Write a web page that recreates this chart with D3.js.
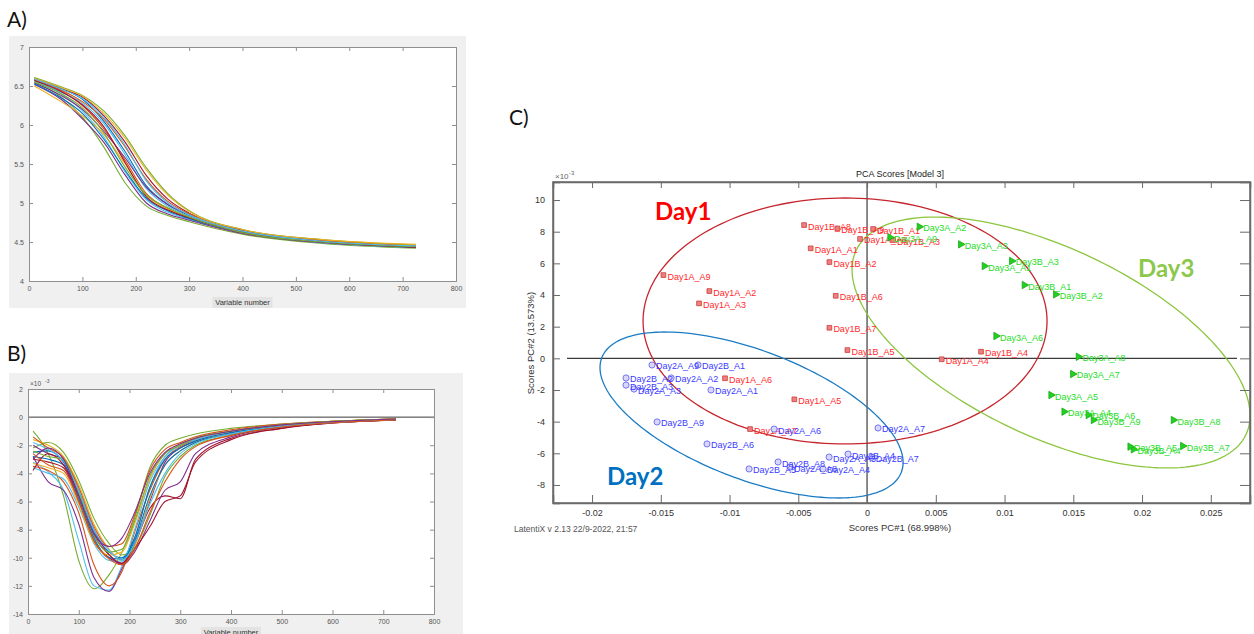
<!DOCTYPE html>
<html>
<head>
<meta charset="utf-8">
<script src="https://cdn.jsdelivr.net/npm/d3@7"></script>
<style>
  body { margin: 0; background: #fff; }
  svg { display: block; font-family: "Liberation Sans", Arial, sans-serif; }
</style>
</head>
<body>
<svg id="fig" width="1254" height="634"></svg>
<script>
// ---- panel A: raw curves (value vs variable number) ----
var varA = [10, 60, 100, 140, 180, 220, 260, 300, 400, 550, 725];
var spectraA = [
  [6.55, 6.36, 6.10, 5.72, 5.26, 4.96, 4.84, 4.76, 4.60, 4.48, 4.42],
  [6.57, 6.40, 6.18, 5.85, 5.40, 5.04, 4.88, 4.79, 4.62, 4.49, 4.43],
  [6.52, 6.33, 6.08, 5.78, 5.36, 5.00, 4.86, 4.78, 4.61, 4.49, 4.44],
  [6.58, 6.44, 6.25, 5.95, 5.55, 5.12, 4.93, 4.81, 4.63, 4.50, 4.44],
  [6.60, 6.47, 6.33, 6.05, 5.66, 5.22, 4.98, 4.84, 4.64, 4.51, 4.45],
  [6.50, 6.30, 6.12, 5.88, 5.50, 5.10, 4.92, 4.82, 4.63, 4.51, 4.45],
  [6.59, 6.46, 6.36, 6.12, 5.78, 5.35, 5.05, 4.87, 4.65, 4.52, 4.45],
  [6.61, 6.49, 6.38, 6.18, 5.86, 5.45, 5.12, 4.90, 4.66, 4.53, 4.46],
  [6.56, 6.42, 6.28, 6.02, 5.62, 5.18, 4.96, 4.83, 4.63, 4.50, 4.44],
  [6.54, 6.38, 6.20, 5.92, 5.58, 5.20, 4.98, 4.85, 4.64, 4.51, 4.44],
  [6.58, 6.45, 6.30, 6.08, 5.72, 5.30, 5.02, 4.86, 4.64, 4.52, 4.45],
  [6.53, 6.35, 6.15, 5.82, 5.42, 5.06, 4.90, 4.80, 4.62, 4.50, 4.43],
  [6.60, 6.48, 6.37, 6.15, 5.83, 5.42, 5.10, 4.89, 4.66, 4.53, 4.47],
  [6.57, 6.43, 6.26, 5.98, 5.52, 5.08, 4.91, 4.81, 4.62, 4.50, 4.43],
  [6.55, 6.40, 6.22, 5.90, 5.46, 5.10, 4.94, 4.82, 4.62, 4.50, 4.44],
  [6.59, 6.46, 6.34, 6.10, 5.74, 5.28, 5.00, 4.85, 4.64, 4.51, 4.45]
];
var yTicksA = [4, 4.5, 5, 5.5, 6, 6.5, 7];

// ---- panel B: first derivative curves (x10^-3) ----
var varB = [10, 40, 70, 100, 130, 160, 185, 210, 240, 270, 300, 330, 400, 500, 600, 725];
var spectraB = [
  [-1.0, -2.6, -5.6, -10.2, -12.2, -11.2, -9.6, -7.2, -3.6, -2.0, -1.5, -1.2, -0.8, -0.5, -0.3, -0.12],
  [-3.2, -3.9, -5.2, -8.8, -12.0, -12.3, -10.6, -8.6, -5.0, -2.8, -2.0, -1.6, -1.0, -0.6, -0.35, -0.15],
  [-2.8, -4.6, -5.2, -7.6, -11.4, -12.4, -10.8, -9.0, -6.0, -3.2, -2.2, -1.7, -1.1, -0.6, -0.35, -0.15],
  [-3.5, -3.8, -4.6, -6.8, -10.5, -12.0, -11.0, -8.2, -5.2, -3.0, -2.1, -1.6, -1.0, -0.6, -0.35, -0.2],
  [-2.5, -2.4, -3.2, -5.5, -8.2, -9.6, -10.0, -8.6, -5.0, -3.0, -2.2, -1.7, -1.1, -0.6, -0.35, -0.15],
  [-1.6, -2.0, -2.8, -4.8, -7.6, -9.4, -10.2, -9.2, -5.8, -3.4, -2.4, -1.8, -1.2, -0.7, -0.4, -0.2],
  [-3.0, -3.2, -3.6, -6.0, -8.8, -10.0, -10.4, -9.0, -6.5, -5.6, -5.8, -3.0, -1.5, -0.8, -0.4, -0.2],
  [-2.2, -1.8, -2.5, -4.5, -7.2, -9.0, -9.8, -9.3, -7.0, -4.2, -2.8, -2.0, -1.3, -0.7, -0.4, -0.2],
  [-3.6, -4.0, -4.4, -6.4, -9.0, -10.2, -10.3, -8.0, -4.6, -2.8, -2.0, -1.6, -1.0, -0.6, -0.35, -0.15],
  [-2.0, -2.6, -3.0, -5.2, -8.0, -9.8, -10.5, -9.6, -7.4, -5.2, -4.6, -2.6, -1.4, -0.7, -0.4, -0.2],
  [-1.4, -2.2, -2.9, -5.0, -7.8, -9.2, -9.0, -7.0, -3.8, -2.3, -1.8, -1.4, -0.9, -0.5, -0.3, -0.12],
  [-2.8, -3.0, -3.4, -5.8, -8.6, -10.0, -10.1, -8.8, -5.6, -3.4, -2.4, -1.8, -1.2, -0.6, -0.35, -0.15],
  [-3.3, -3.6, -4.0, -6.2, -8.9, -9.8, -9.6, -7.6, -4.4, -2.6, -1.9, -1.5, -1.0, -0.55, -0.3, -0.14],
  [-3.8, -2.6, -3.4, -5.6, -8.4, -9.8, -10.4, -9.4, -7.8, -6.0, -5.6, -3.2, -1.6, -0.8, -0.42, -0.22],
  [-2.4, -2.8, -3.0, -5.4, -8.4, -9.6, -9.4, -7.4, -4.2, -2.6, -2.0, -1.5, -1.0, -0.55, -0.3, -0.14],
  [-1.8, -2.3, -3.1, -5.2, -8.0, -9.5, -10.2, -9.0, -6.2, -4.0, -2.6, -1.9, -1.2, -0.65, -0.38, -0.18],
  [-3.0, -2.2, -3.0, -5.6, -8.3, -9.2, -8.6, -6.8, -4.0, -2.5, -1.9, -1.5, -1.0, -0.55, -0.32, -0.14],
  [-2.6, -3.4, -3.8, -6.0, -8.8, -10.1, -10.5, -9.4, -6.8, -4.6, -3.0, -2.1, -1.3, -0.7, -0.4, -0.2]
];
var yTicksB = [-14, -12, -10, -8, -6, -4, -2, 0, 2];
var xTicksSpectra = [0, 100, 200, 300, 400, 500, 600, 700, 800];

// ---- panel C: PCA scores (PC2 in x10^-3) ----
var namesDay1 = ['Day1A_A1','Day1A_A2','Day1A_A3','Day1A_A4','Day1A_A5','Day1A_A6','Day1A_A7','Day1A_A8','Day1A_A9',
                 'Day1B_A1','Day1B_A2','Day1B_A3','Day1B_A4','Day1B_A5','Day1B_A6','Day1B_A7','Day1B_A8','Day1B_A9'];
var pc1Day1 = [-0.00410, -0.01147, -0.01222, 0.00543, -0.00529, -0.01033, -0.00851, -0.00051, -0.01481,
               0.00044, -0.00274, 0.00189, 0.00829, -0.00143, -0.00228, -0.00274, -0.00458, -0.00216];
var pc2Day1 = [6.95, 4.25, 3.47, -0.06, -2.59, -1.26, -4.47, 7.54, 5.26,
               8.17, 6.08, 7.47, 0.42, 0.52, 3.95, 1.93, 8.42, 8.21];

var namesDay2 = ['Day2A_A1','Day2A_A2','Day2A_A3','Day2A_A4','Day2A_A5','Day2A_A6','Day2A_A7','Day2A_A8','Day2A_A9',
                 'Day2B_A1','Day2B_A2','Day2B_A3','Day2B_A4','Day2B_A5','Day2B_A6','Day2B_A7','Day2B_A8','Day2B_A9'];
var pc1Day2 = [-0.01135, -0.01425, -0.01695, -0.00320, -0.00276, -0.00676, 0.00080, -0.00560, -0.01564,
               -0.01229, -0.01753, -0.01753, -0.00138, -0.00858, -0.01164, 0.00034, -0.00647, -0.01527];
var pc2Day2 = [-2.00, -1.24, -1.94, -6.99, -6.24, -4.47, -4.40, -6.87, -0.42,
               -0.42, -1.24, -1.69, -6.05, -6.99, -5.41, -6.25, -6.55, -4.02];

var namesDay3 = ['Day3A_A1','Day3A_A2','Day3A_A3','Day3A_A4','Day3A_A5','Day3A_A6','Day3A_A7','Day3A_A8','Day3A_A9',
                 'Day3B_A1','Day3B_A2','Day3B_A3','Day3B_A4','Day3B_A5','Day3B_A6','Day3B_A7','Day3B_A8','Day3B_A9'];
var pc1Day3 = [0.00853, 0.00380, 0.00681, 0.01433, 0.01338, 0.00938, 0.01496, 0.01537, 0.00167,
               0.01144, 0.01372, 0.01052, 0.01937, 0.01913, 0.01609, 0.02296, 0.02228, 0.01646];
var pc2Day3 = [5.83, 8.31, 7.20, -3.37, -2.32, 1.41, -0.99, 0.10, 7.64,
               4.63, 4.04, 6.15, -5.75, -5.58, -3.58, -5.54, -3.90, -3.90];

// group ellipses: centre and the two semi-axis vectors, in score units
var ellipseNames = ['Day1', 'Day2', 'Day3'];
var ellipseCx = [-0.0016, -0.0084, 0.01338];
var ellipseCy = [2.36, -3.58, 1.00];
var ellipseUx = [0.01469, 0.010894, 0.014175];
var ellipseUy = [0, -3.613, -5.821];
var ellipseVx = [0, -0.001672, -0.002928];
var ellipseVy = [7.77, -3.80, -5.380];

var xTicksC = [-0.02, -0.015, -0.01, -0.005, 0, 0.005, 0.01, 0.015, 0.02, 0.025];
var yTicksC = [-8, -6, -4, -2, 0, 2, 4, 6, 8, 10];

var matlabColors = ['#77AC30', '#4DBEEE', '#7E2F8E', '#D95319', '#0072BD', '#EDB120', '#A2142F'];

var svg = d3.select('#fig');

// panel letters
svg.selectAll('text.panel-letter')
  .data([['A)', 7, 27], ['B)', 7, 361], ['C)', 509, 125]])
  .join('text')
  .attr('class', 'panel-letter')
  .attr('x', function(d) { return d[1]; })
  .attr('y', function(d) { return d[2]; })
  .attr('font-family', 'Lato, "Open Sans", sans-serif')
  .attr('font-size', 21)
  .attr('fill', '#111')
  .text(function(d) { return d[0]; });

function styleAxis(sel, color, textColor, fontSize) {
  sel.selectAll('path.domain').attr('stroke', color);
  sel.selectAll('.tick line').attr('stroke', color);
  sel.selectAll('.tick text').attr('fill', textColor).attr('font-size', fontSize)
    .attr('font-family', '"Liberation Sans", Arial, sans-serif');
}

function drawSpectra(cfg) {
  var g = svg.append('g');
  g.append('rect')
    .attr('x', cfg.bg[0]).attr('y', cfg.bg[1])
    .attr('width', cfg.bg[2]).attr('height', cfg.bg[3])
    .attr('fill', '#f0f0f0');

  var x = d3.scaleLinear().domain([0, 800]).range([cfg.left, cfg.right]);
  var y = d3.scaleLinear().domain(cfg.yDomain).range([cfg.bottom, cfg.top]);

  g.append('rect')
    .attr('x', cfg.left).attr('y', cfg.top)
    .attr('width', cfg.right - cfg.left).attr('height', cfg.bottom - cfg.top)
    .attr('fill', '#fff');

  g.append('clipPath').attr('id', cfg.id + '-clip')
    .append('rect')
    .attr('x', cfg.left).attr('y', cfg.top)
    .attr('width', cfg.right - cfg.left).attr('height', cfg.bottom - cfg.top);

  var line = d3.line()
    .x(function(d, i) { return x(cfg.vars[i]); })
    .y(function(d) { return y(d); })
    .curve(d3.curveMonotoneX);

  var curves = g.append('g').attr('clip-path', 'url(#' + cfg.id + '-clip)');
  curves.selectAll('path')
    .data(cfg.series)
    .join('path')
    .attr('d', line)
    .attr('fill', 'none')
    .attr('stroke', function(d, i) { return matlabColors[i % matlabColors.length]; })
    .attr('stroke-width', 1.1);

  if (cfg.zeroLine) {
    g.append('line')
      .attr('x1', cfg.left).attr('x2', cfg.right)
      .attr('y1', y(0)).attr('y2', y(0))
      .attr('stroke', '#3a3a3a').attr('stroke-width', 1);
  }

  var axColor = '#8f8f8f';
  var bottom = g.append('g').attr('transform', 'translate(0,' + cfg.bottom + ')')
    .call(d3.axisBottom(x).tickValues(xTicksSpectra).tickSize(-4).tickPadding(5).tickFormat(String));
  styleAxis(bottom, axColor, '#555', 7);
  var top = g.append('g').attr('transform', 'translate(0,' + cfg.top + ')')
    .call(d3.axisTop(x).tickValues(xTicksSpectra).tickSize(-4).tickFormat(''));
  styleAxis(top, axColor, '#555', 7);
  var left = g.append('g').attr('transform', 'translate(' + cfg.left + ',0)')
    .call(d3.axisLeft(y).tickValues(cfg.yTicks).tickSize(-4).tickPadding(5).tickFormat(String));
  styleAxis(left, axColor, '#555', 7);
  var right = g.append('g').attr('transform', 'translate(' + cfg.right + ',0)')
    .call(d3.axisRight(y).tickValues(cfg.yTicks).tickSize(-4).tickFormat(''));
  styleAxis(right, axColor, '#555', 7);

  if (cfg.exponent) {
    g.append('text')
      .attr('x', cfg.left + 2).attr('y', cfg.top - 3)
      .attr('font-size', 6.5).attr('fill', '#555')
      .text('\u00d710');
    g.append('text')
      .attr('x', cfg.left + 17).attr('y', cfg.top - 6)
      .attr('font-size', 5).attr('fill', '#555')
      .text('-3');
  }

  var cx = (cfg.left + cfg.right) / 2;
  g.append('rect')
    .attr('x', cx - 30).attr('y', cfg.labelY - 8)
    .attr('width', 60).attr('height', 11)
    .attr('fill', '#e3e3e3');
  g.append('text')
    .attr('x', cx).attr('y', cfg.labelY)
    .attr('text-anchor', 'middle')
    .attr('font-size', 7.5).attr('fill', '#333')
    .text('Variable number');
}

drawSpectra({
  id: 'pa', bg: [9, 36, 457, 272],
  left: 29, right: 456, top: 47, bottom: 281,
  yDomain: [4, 7], yTicks: yTicksA,
  vars: varA, series: spectraA,
  zeroLine: false, exponent: false, labelY: 305
});

drawSpectra({
  id: 'pb', bg: [9, 373, 454, 261],
  left: 28, right: 434, top: 389, bottom: 614,
  yDomain: [-14, 2], yTicks: yTicksB,
  vars: varB, series: spectraB,
  zeroLine: true, exponent: true, labelY: 635
});

// ---- panel C ----
var cLeft = 553, cRight = 1250, cTop = 182, cBottom = 503;
var xC = d3.scaleLinear().domain([-0.02284, 0.02785]).range([cLeft, cRight]);
var yC = d3.scaleLinear().domain([-9.14, 11.14]).range([cBottom, cTop]);
var gc = svg.append('g');

gc.append('text')
  .attr('x', 900).attr('y', 177)
  .attr('text-anchor', 'middle')
  .attr('font-size', 9).attr('fill', '#222')
  .text('PCA Scores [Model 3]');

gc.append('text').attr('x', cLeft + 2).attr('y', cTop - 3)
  .attr('font-size', 8).attr('fill', '#666').text('\u00d710');
gc.append('text').attr('x', cLeft + 16).attr('y', cTop - 7)
  .attr('font-size', 6).attr('fill', '#666').text('-3');

// zero lines
gc.append('line')
  .attr('x1', cLeft + 14).attr('x2', cRight - 13)
  .attr('y1', yC(0)).attr('y2', yC(0))
  .attr('stroke', '#3c3c3c').attr('stroke-width', 1.2);
gc.append('line')
  .attr('x1', xC(0)).attr('x2', xC(0))
  .attr('y1', cTop).attr('y2', cBottom)
  .attr('stroke', '#3c3c3c').attr('stroke-width', 1.2);

// ellipses
var ellipseColors = ['#c6262e', '#1b7cc4', '#8cc63f'];
var ellipseLine = d3.line()
  .x(function(d) { return xC(d[0]); })
  .y(function(d) { return yC(d[1]); })
  .curve(d3.curveLinearClosed);
gc.selectAll('path.ellipse')
  .data(ellipseNames)
  .join('path')
  .attr('class', 'ellipse')
  .attr('d', function(name, k) {
    var pts = d3.range(0, 360, 2).map(function(deg) {
      var t = deg * Math.PI / 180;
      return [ellipseCx[k] + ellipseUx[k] * Math.cos(t) + ellipseVx[k] * Math.sin(t),
              ellipseCy[k] + ellipseUy[k] * Math.cos(t) + ellipseVy[k] * Math.sin(t)];
    });
    return ellipseLine(pts);
  })
  .attr('fill', 'none')
  .attr('stroke', function(d, k) { return ellipseColors[k]; })
  .attr('stroke-width', 1.3);

// frame and axes
gc.append('rect')
  .attr('x', cLeft).attr('y', cTop)
  .attr('width', cRight - cLeft).attr('height', cBottom - cTop)
  .attr('fill', 'none').attr('stroke', '#6a6a6a').attr('stroke-width', 1.5);

var cAx = '#6a6a6a';
var axB = gc.append('g').attr('transform', 'translate(0,' + cBottom + ')')
  .call(d3.axisBottom(xC).tickValues(xTicksC).tickSize(-8).tickPadding(7).tickFormat(String));
styleAxis(axB, cAx, '#333', 9);
var axT = gc.append('g').attr('transform', 'translate(0,' + cTop + ')')
  .call(d3.axisTop(xC).tickValues(xTicksC).tickSize(-6).tickFormat(''));
styleAxis(axT, cAx, '#333', 9);
var axL = gc.append('g').attr('transform', 'translate(' + cLeft + ',0)')
  .call(d3.axisLeft(yC).tickValues(yTicksC).tickSize(-7).tickPadding(8).tickFormat(String));
styleAxis(axL, cAx, '#333', 9);
var axR = gc.append('g').attr('transform', 'translate(' + cRight + ',0)')
  .call(d3.axisRight(yC).tickValues(yTicksC).tickSize(-10).tickFormat(''));
styleAxis(axR, cAx, '#333', 9);
gc.selectAll('path.domain').attr('stroke-width', 1.5);

gc.append('text')
  .attr('transform', 'translate(534,' + 343 + ') rotate(-90)')
  .attr('text-anchor', 'middle')
  .attr('font-size', 9.5).attr('fill', '#333')
  .text('Scores PC#2 (13.573%)');
gc.append('text')
  .attr('x', 900).attr('y', 531)
  .attr('text-anchor', 'middle')
  .attr('font-size', 9.5).attr('fill', '#333')
  .text('Scores PC#1 (68.998%)');
gc.append('text')
  .attr('x', 514).attr('y', 532)
  .attr('font-size', 8.5).attr('fill', '#555')
  .text('LatentiX v 2.13 22/9-2022, 21:57');

// sample markers and labels
var groups = [
  { names: namesDay1, x: pc1Day1, y: pc2Day1, symbol: d3.symbolSquare, size: 22, rot: 0,
    fill: '#f08080', stroke: '#c83c3c', text: '#ff2a2a' },
  { names: namesDay2, x: pc1Day2, y: pc2Day2, symbol: d3.symbolCircle, size: 30, rot: 0,
    fill: '#d6d6ff', stroke: '#5a5ae6', text: '#3b3bff' },
  { names: namesDay3, x: pc1Day3, y: pc2Day3, symbol: d3.symbolTriangle, size: 24, rot: 90,
    fill: '#22d022', stroke: '#18a818', text: '#1edc1e' }
];

groups.forEach(function(grp) {
  var sym = d3.symbol().type(grp.symbol).size(grp.size);
  var pg = gc.append('g');
  pg.selectAll('path')
    .data(grp.names)
    .join('path')
    .attr('d', sym)
    .attr('transform', function(d, i) {
      return 'translate(' + xC(grp.x[i]) + ',' + yC(grp.y[i]) + ') rotate(' + grp.rot + ')';
    })
    .attr('fill', grp.fill)
    .attr('stroke', grp.stroke)
    .attr('stroke-width', 0.8);
  pg.selectAll('text')
    .data(grp.names)
    .join('text')
    .attr('x', function(d, i) { return xC(grp.x[i]) + 4; })
    .attr('y', function(d, i) { return yC(grp.y[i]) + 4.5; })
    .attr('font-size', 9)
    .attr('fill', grp.text)
    .text(function(d) { return d; });
});

// group names
var groupLabelX = [-0.01542, -0.01891, 0.01971];
var groupLabelY = [8.74, -8.00, 5.14];
var groupLabelColors = ['#ff0000', '#0070c0', '#8cc84b'];
gc.selectAll('text.group')
  .data(ellipseNames)
  .join('text')
  .attr('class', 'group')
  .attr('x', function(d, i) { return xC(groupLabelX[i]); })
  .attr('y', function(d, i) { return yC(groupLabelY[i]); })
  .attr('font-family', 'Lato, "Open Sans", sans-serif')
  .attr('font-weight', 'bold')
  .attr('font-size', 24)
  .attr('fill', function(d, i) { return groupLabelColors[i]; })
  .text(function(d) { return d; });
</script>
</body>
</html>
